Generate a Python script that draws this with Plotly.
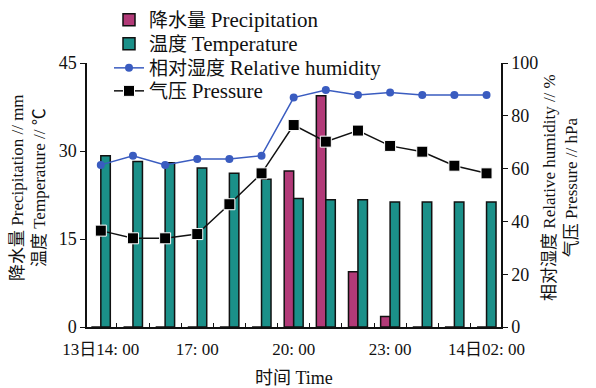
import plotly.graph_objects as go

times = ["14:00", "15:00", "16:00", "17:00", "18:00", "19:00", "20:00",
         "21:00", "22:00", "23:00", "00:00", "01:00", "02:00"]
precipitation = [0, 0, 0, 0, 0, 0, 26.6, 39.4, 9.4, 1.8, 0, 0, 0]
temperature = [29.2, 28.2, 28.0, 27.1, 26.2, 25.2, 21.9, 21.7, 21.7, 21.3, 21.3, 21.3, 21.3]
humidity = [61.4, 64.9, 61.4, 63.6, 63.6, 64.9, 86.9, 89.8, 87.9, 88.8, 87.9, 87.9, 87.9]
pressure = [36.5, 33.6, 33.6, 35.2, 46.5, 58.2, 76.5, 70.2, 74.4, 68.6, 66.4, 61.1, 58.2]
tick_idx = [0, 3, 6, 9, 12]
tick_text = ["13日14: 00", "17: 00", "20: 00", "23: 00", "14日02: 00"]
names_cn = ["降水量", "温度", "相对湿度", "气压"]
names_en = ["Precipitation", "Temperature", "Relative humidity", "Pressure"]

FONT = "Liberation Serif, Noto Sans CJK SC, serif"
x = list(range(len(times)))
labels = [f"{c} <span style='font-size:21px'>{e}</span>" for c, e in zip(names_cn, names_en)]

fig = go.Figure()
fig.add_trace(go.Bar(x=x, y=precipitation, name=labels[0], legend="legend",
                     marker=dict(color="#b23a78", line=dict(color="#111", width=1.5))))
fig.add_trace(go.Bar(x=x, y=temperature, name=labels[1], legend="legend2",
                     marker=dict(color="#1b9089", line=dict(color="#111", width=1.5))))
fig.add_trace(go.Scatter(x=x, y=humidity, name=labels[2], yaxis="y2",
                         legend="legend3",
                         mode="lines+markers", line=dict(color="#3a5cc0", width=1.5),
                         marker=dict(symbol="circle", size=8, color="#3a5cc0")))
fig.add_trace(go.Scatter(x=x, y=pressure, name=labels[3], yaxis="y2",
                         legend="legend4",
                         mode="lines+markers", line=dict(color="#111", width=1.5),
                         marker=dict(symbol="square", size=11, color="#000",
                                     line=dict(color="white", width=1))))

def leg(ypx):
    return dict(xref="paper", yref="paper", x=(109 - 87) / 414, y=(327 - ypx) / 264,
                xanchor="left", yanchor="middle", bgcolor="rgba(0,0,0,0)",
                font=dict(size=19, family=FONT, color="#111"), itemwidth=30)

fig.update_layout(
    width=596, height=388,
    margin=dict(l=87, r=95, t=63, b=61, autoexpand=False),
    paper_bgcolor="white", plot_bgcolor="white",
    font=dict(family=FONT, size=17, color="#111"),
    barmode="group", bargap=0.41, bargroupgap=0,
    showlegend=True,
    legend=leg(20), legend2=leg(44), legend3=leg(68), legend4=leg(91),
    xaxis=dict(range=[-0.43, 12.45], tickvals=tick_idx, ticktext=tick_text,
               showline=True, linecolor="#111", linewidth=1.5, showgrid=False,
               zeroline=False, ticks="", tickfont=dict(size=17), ticklabelstandoff=6,
               minor=dict(tickmode="linear", tick0=0.5, dtick=1, ticks="inside",
                          ticklen=4, tickcolor="#111", tickwidth=1, showgrid=False)),
    yaxis=dict(range=[0, 45], tickvals=[0, 15, 30, 45], showline=True,
               linecolor="#111", linewidth=1.5, showgrid=False, zeroline=False,
               ticks="outside", ticklen=5, tickcolor="#111", tickfont=dict(size=18)),
    yaxis2=dict(range=[0, 100], tickvals=[0, 20, 40, 60, 80, 100], overlaying="y",
                side="right", showline=True, linecolor="#111", linewidth=1.5,
                showgrid=False, zeroline=False, ticks="outside", ticklen=5,
                tickcolor="#111", tickfont=dict(size=18)),
    annotations=[
        dict(text="降水量 Precipitation // mm<br>温度 Temperature // ℃",
             xref="paper", yref="paper", x=-0.14, y=0.527, textangle=-90,
             xanchor="center", yanchor="middle",
             showarrow=False, font=dict(size=17, family=FONT), align="center"),
        dict(text="相对湿度 Relative humidity // %<br>气压 Pressure // hPa",
             xref="paper", yref="paper", x=1.145, y=0.527, textangle=-90,
             xanchor="center", yanchor="middle",
             showarrow=False, font=dict(size=17, family=FONT), align="center"),
        dict(text="时间 Time", xref="paper", yref="paper", x=0.5, y=-0.193,
             xanchor="center", yanchor="middle", showarrow=False,
             font=dict(size=18, family=FONT)),
    ],
)

fig.write_html("out.html", config={"displayModeBar": False},
               post_script="document.body.style.margin='0';")
